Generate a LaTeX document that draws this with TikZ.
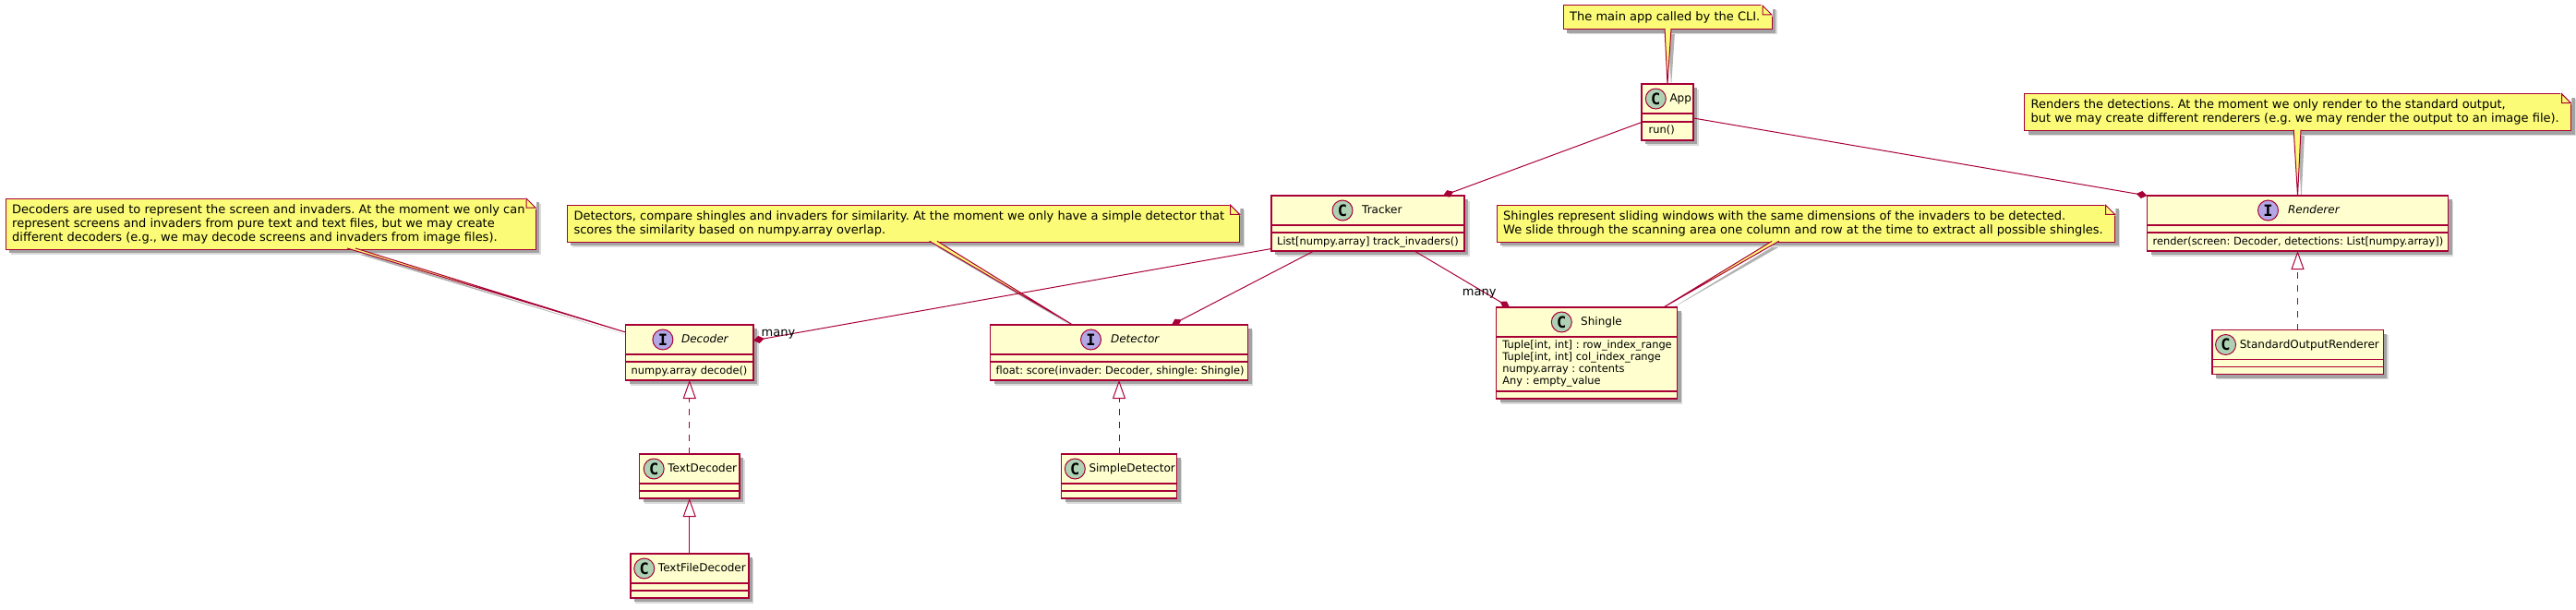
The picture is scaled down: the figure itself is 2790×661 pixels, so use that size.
\documentclass[tikz,border=0pt]{standalone}
\usepackage{fontspec}
\setmainfont{DejaVu Sans}
\newfontfamily\spotfont{DejaVu Sans Mono}
\usepackage{xcolor}
\usepackage{tikz}
\usetikzlibrary{shapes, positioning, calc, shadows, arrows.meta, backgrounds}
\definecolor{umlline}{HTML}{A80036}
\definecolor{umlfill}{HTML}{FEFECE}
\definecolor{umlnote}{HTML}{FBFB77}
\definecolor{umlclass}{HTML}{ADD1B2}
\definecolor{umliface}{HTML}{B4A7E5}
\newcommand{\notetip}[3]{
  \begin{scope}[on background layer]
    \fill [tipshadow] #1 -- #2 -- #3 -- cycle;
  \end{scope}
  \path [notepoint] #1 -- #2 -- #3;
}
\newcommand{\notefold}[1]{
  \filldraw [white, line width = 1.5pt] ([xshift = -10pt]#1.north east) -- (#1.north east) -- ([yshift = -10pt]#1.north east) -- cycle;
  \draw [notepoint] ([xshift = -10pt]#1.north east) -- ([xshift = -10pt, yshift = -10pt]#1.north east) -- ([yshift = -10pt]#1.north east) -- cycle;
}

\begin{document}
\frenchspacing
\begin{tikzpicture}[
    x = 1pt, y = -1pt,
    softshadow/.style = {
      drop shadow = {shadow xshift = 5.5pt, shadow yshift = -5.5pt, fill = black!14, opacity = 1},
      drop shadow = {shadow xshift = 4pt, shadow yshift = -4pt, fill = black!36, opacity = 1}
    },
    classbox/.style = {
      rectangle, draw = umlline, fill = umlfill, line width = 1.5pt,
      inner sep = 0pt, outer sep = 0pt, softshadow
    },
    classrule/.style = {
      draw = umlline, line width = 1.5pt
    },
    classspot/.style = {
      circle, draw = umlline, fill = umlclass, line width = 1pt, inner sep = 0pt,
      minimum size = 22pt, font = \spotfont\bfseries\fontsize{17}{17}\selectfont
    },
    ifacespot/.style = {
      classspot, fill = umliface
    },
    classname/.style = {
      inner sep = 0pt, text height = 10pt, text depth = 3pt,
      font = \fontsize{12}{14}\selectfont
    },
    members/.style = {
      inner sep = 0pt, anchor = west, align = left,
      font = \fontsize{11.4}{13}\selectfont
    },
    notebox/.style = {
      rectangle, draw = umlline, fill = umlnote, line width = 1pt,
      inner sep = 0pt, outer sep = 0pt, softshadow
    },
    notetext/.style = {
      inner sep = 0pt, anchor = west, align = left,
      font = \fontsize{13}{15}\selectfont
    },
    notepoint/.style = {
      draw = umlline, fill = umlnote, line width = 1pt
    },
    tipshadow/.style = {
      fill = black!30, transform canvas = {xshift = 4pt, yshift = -4pt}
    },
    linklabel/.style = {
      inner sep = 0pt, anchor = west, font = \fontsize{13}{15}\selectfont
    },
    composition/.style = {
      draw = umlline, line width = 1pt,
      -{Diamond[length = 12pt, width = 8pt, fill = umlline]}
    },
    extension/.style = {
      draw = umlline, line width = 1pt,
      -{Triangle[open, length = 20pt, width = 14pt, fill = white]}
    },
    realization/.style = {
      extension, dash pattern = on 7pt off 7pt
    },
    ]
\path [use as bounding box] (0, 0) rectangle (2790, 661);

% classes
\node  [classbox, minimum width = 56pt, minimum height = 61pt]  (app)  at  (1806, 121.5)  {};
\node  [classbox, minimum width = 209pt, minimum height = 60pt]  (tracker)  at  (1481.5, 242)  {};
\node  [classbox, minimum width = 326pt, minimum height = 60pt]  (renderer)  at  (2488.5, 242)  {};
\node  [classbox, minimum width = 138.5pt, minimum height = 60pt]  (decoder)  at  (746.75, 382)  {};
\node  [classbox, minimum width = 279pt, minimum height = 60pt]  (detector)  at  (1212, 382)  {};
\node  [classbox, minimum width = 196pt, minimum height = 99pt]  (shingle)  at  (1718.7, 382.5)  {};
\node  [classbox, minimum width = 108.5pt, minimum height = 48pt]  (text_decoder)  [below = 80pt of decoder]  {};
\node  [classbox, minimum width = 128pt, minimum height = 48pt]  (text_file_decoder)  [below = 60pt of text_decoder]  {};
\node  [classbox, minimum width = 125pt, minimum height = 48pt]  (simple_detector)  [below = 80pt of detector]  {};
\node  [classbox, minimum width = 185.5pt, minimum height = 48pt]  (std_renderer)  [below = 85.5pt of renderer]  {};

\draw  [classrule]  ([yshift = -32pt]app.north west)  --  ([yshift = -32pt]app.north east);
\draw  [classrule]  ([yshift = -41pt]app.north west)  --  ([yshift = -41pt]app.north east);
\draw  [classrule]  ([yshift = -32pt]tracker.north west)  --  ([yshift = -32pt]tracker.north east);
\draw  [classrule]  ([yshift = -40pt]tracker.north west)  --  ([yshift = -40pt]tracker.north east);
\draw  [classrule]  ([yshift = -32pt]renderer.north west)  --  ([yshift = -32pt]renderer.north east);
\draw  [classrule]  ([yshift = -40pt]renderer.north west)  --  ([yshift = -40pt]renderer.north east);
\draw  [classrule]  ([yshift = -32pt]decoder.north west)  --  ([yshift = -32pt]decoder.north east);
\draw  [classrule]  ([yshift = -40pt]decoder.north west)  --  ([yshift = -40pt]decoder.north east);
\draw  [classrule]  ([yshift = -32pt]detector.north west)  --  ([yshift = -32pt]detector.north east);
\draw  [classrule]  ([yshift = -40pt]detector.north west)  --  ([yshift = -40pt]detector.north east);
\draw  [classrule]  ([yshift = -32pt]shingle.north west)  --  ([yshift = -32pt]shingle.north east);
\draw  [classrule]  ([yshift = -91pt]shingle.north west)  --  ([yshift = -91pt]shingle.north east);
\draw  [classrule]  ([yshift = -32pt]text_decoder.north west)  --  ([yshift = -32pt]text_decoder.north east);
\draw  [classrule]  ([yshift = -40pt]text_decoder.north west)  --  ([yshift = -40pt]text_decoder.north east);
\draw  [classrule]  ([yshift = -32pt]text_file_decoder.north west)  --  ([yshift = -32pt]text_file_decoder.north east);
\draw  [classrule]  ([yshift = -40pt]text_file_decoder.north west)  --  ([yshift = -40pt]text_file_decoder.north east);
\draw  [classrule]  ([yshift = -32pt]simple_detector.north west)  --  ([yshift = -32pt]simple_detector.north east);
\draw  [classrule]  ([yshift = -40pt]simple_detector.north west)  --  ([yshift = -40pt]simple_detector.north east);
\draw  [classrule]  ([yshift = -32pt]std_renderer.north west)  --  ([yshift = -32pt]std_renderer.north east);
\draw  [classrule]  ([yshift = -40pt]std_renderer.north west)  --  ([yshift = -40pt]std_renderer.north east);

% class headers
\node  [classspot]  (app_spot)  at  ([xshift = 15.3pt, yshift = -16pt]app.north west)  {C};
\node  [classname, anchor = west]  (app_name)  [right = 15pt of app_spot.center]  {App};
\node  [classspot]  (tracker_spot)  at  ([xshift = 77pt, yshift = -16pt]tracker.north west)  {C};
\node  [classname, anchor = west]  (tracker_name)  [right = 21pt of tracker_spot.center]  {Tracker};
\node  [ifacespot]  (renderer_spot)  at  ([xshift = 131pt, yshift = -16pt]renderer.north west)  {I};
\node  [classname, anchor = west]  (renderer_name)  [right = 21.4pt of renderer_spot.center]  {\itshape Renderer};
\node  [ifacespot]  (decoder_spot)  at  ([xshift = 40.4pt, yshift = -16pt]decoder.north west)  {I};
\node  [classname, anchor = west]  (decoder_name)  [right = 20pt of decoder_spot.center]  {\itshape Decoder};
\node  [ifacespot]  (detector_spot)  at  ([xshift = 109pt, yshift = -16pt]detector.north west)  {I};
\node  [classname, anchor = west]  (detector_name)  [right = 21.4pt of detector_spot.center]  {\itshape Detector};
\node  [classspot]  (shingle_spot)  at  ([xshift = 70.6pt, yshift = -16pt]shingle.north west)  {C};
\node  [classname, anchor = west]  (shingle_name)  [right = 20.7pt of shingle_spot.center]  {Shingle};
\node  [classspot]  (text_decoder_spot)  at  ([xshift = 15.7pt, yshift = -16pt]text_decoder.north west)  {C};
\node  [classname, anchor = west]  (text_decoder_name)  [right = 15pt of text_decoder_spot.center]  {TextDecoder};
\node  [classspot]  (text_file_decoder_spot)  at  ([xshift = 15pt, yshift = -16pt]text_file_decoder.north west)  {C};
\node  [classname, anchor = west]  (text_file_decoder_name)  [right = 15pt of text_file_decoder_spot.center]  {TextFileDecoder};
\node  [classspot]  (simple_detector_spot)  at  ([xshift = 14.8pt, yshift = -16pt]simple_detector.north west)  {C};
\node  [classname, anchor = west]  (simple_detector_name)  [right = 15pt of simple_detector_spot.center]  {SimpleDetector};
\node  [classspot]  (std_renderer_spot)  at  ([xshift = 14.8pt, yshift = -16pt]std_renderer.north west)  {C};
\node  [classname, anchor = west]  (std_renderer_name)  [right = 15pt of std_renderer_spot.center]  {StandardOutputRenderer};

% members
\node  [members]  (app_run)  at  ([xshift = 7.5pt, yshift = -50.3pt]app.north west)  {run()};
\node  [members]  (tracker_track)  at  ([xshift = 6pt, yshift = -50.3pt]tracker.north west)  {List[numpy.array] track\_invaders()};
\node  [members]  (renderer_render)  at  ([xshift = 6pt, yshift = -50.3pt]renderer.north west)  {render(screen: Decoder, detections: List[numpy.array])};
\node  [members]  (decoder_decode)  at  ([xshift = 6pt, yshift = -50.3pt]decoder.north west)  {numpy.array decode()};
\node  [members]  (detector_score)  at  ([xshift = 6pt, yshift = -50.3pt]detector.north west)  {float: score(invader: Decoder, shingle: Shingle)};
\node  [members]  (shingle_fields)  at  ([xshift = 6.5pt, yshift = -61.5pt]shingle.north west)  {Tuple[int, int] : row\_index\_range\\Tuple[int, int] col\_index\_range\\numpy.array : contents\\Any : empty\_value};

% notes
\node  [notebox, minimum width = 226pt, minimum height = 26pt]  (note_app)  [above = 59pt of app]  {};
\node  [notebox, minimum width = 592pt, minimum height = 40pt]  (note_renderer)  [above = 70.3pt of renderer]  {};
\node  [notebox, minimum width = 574pt, minimum height = 55pt]  (note_decoder)  at  (293, 242.5)  {};
\node  [notebox, minimum width = 728.4pt, minimum height = 40pt]  (note_detector)  at  (978.5, 242.3)  {};
\node  [notebox, minimum width = 669.5pt, minimum height = 40pt]  (note_shingle)  at  (1955.75, 242.3)  {};
\notefold{note_app}
\notefold{note_renderer}
\notefold{note_decoder}
\notefold{note_detector}
\notefold{note_shingle}
\node  [notetext]  (note_app_text)  at  ([xshift = 7pt]note_app.west)  {The main app called by the CLI.};
\node  [notetext]  (note_renderer_text)  at  ([xshift = 7pt]note_renderer.west)  {Renders the detections. At the moment we only render to the standard output,\\but we may create different renderers (e.g. we may render the output to an image file).};
\node  [notetext]  (note_decoder_text)  at  ([xshift = 7pt]note_decoder.west)  {Decoders are used to represent the screen and invaders. At the moment we only can\\represent screens and invaders from pure text and text files, but we may create\\different decoders (e.g., we may decode screens and invaders from image files).};
\node  [notetext]  (note_detector_text)  at  ([xshift = 7pt]note_detector.west)  {Detectors, compare shingles and invaders for similarity. At the moment we only have a simple detector that\\scores the similarity based on numpy.array overlap.};
\node  [notetext]  (note_shingle_text)  at  ([xshift = 7pt]note_shingle.west)  {Shingles represent sliding windows with the same dimensions of the invaders to be detected.\\We slide through the scanning area one column and row at the time to extract all possible shingles.};

\notetip{([xshift = -3pt, yshift = 1pt]note_app.south)}{(app.north)}{([xshift = 4pt, yshift = 1pt]note_app.south)}
\notetip{([xshift = -4.3pt, yshift = 1pt]note_renderer.south)}{(renderer.north)}{([xshift = 3.5pt, yshift = 1pt]note_renderer.south)}
\notetip{([xshift = 83pt, yshift = 1pt]note_decoder.south)}{([yshift = 22pt]decoder.west)}{([xshift = 92pt, yshift = 1pt]note_decoder.south)}
\notetip{([xshift = 28.2pt, yshift = 1pt]note_detector.south)}{([xshift = -50.3pt]detector.north)}{([xshift = 36.5pt, yshift = 1pt]note_detector.south)}
\notetip{([xshift = -36.5pt, yshift = 1pt]note_shingle.south)}{([xshift = 83pt]shingle.north)}{([xshift = -29pt, yshift = 1pt]note_shingle.south)}

% links
\draw  [composition]  ([yshift = -11pt]app.west)  to  ([xshift = 81.5pt]tracker.north);
\draw  [composition]  ([yshift = -6.5pt]app.east)  to  (renderer.north west);
\draw  [composition]  ([yshift = -27.5pt]tracker.west)  to  ([yshift = 13pt]decoder.east);
\draw  [composition]  ([xshift = -58.5pt]tracker.south)  to  ([xshift = 57pt]detector.north);
\draw  [composition]  ([xshift = 50.5pt]tracker.south)  to  ([xshift = -83.7pt]shingle.north);
\draw  [realization]  (text_decoder.north)  to  (decoder.south);
\draw  [extension]  (text_file_decoder.north)  to  (text_decoder.south);
\draw  [realization]  (simple_detector.north)  to  (detector.south);
\draw  [realization]  (std_renderer.north)  to  (renderer.south);
\node  [linklabel]  (many_decoder)  at  ([xshift = 8.5pt, yshift = -10pt]decoder.north east)  {many};
\node  [linklabel]  (many_shingle)  at  ([xshift = -37pt, yshift = 15pt]shingle.north west)  {many};
\end{tikzpicture}
\end{document}
